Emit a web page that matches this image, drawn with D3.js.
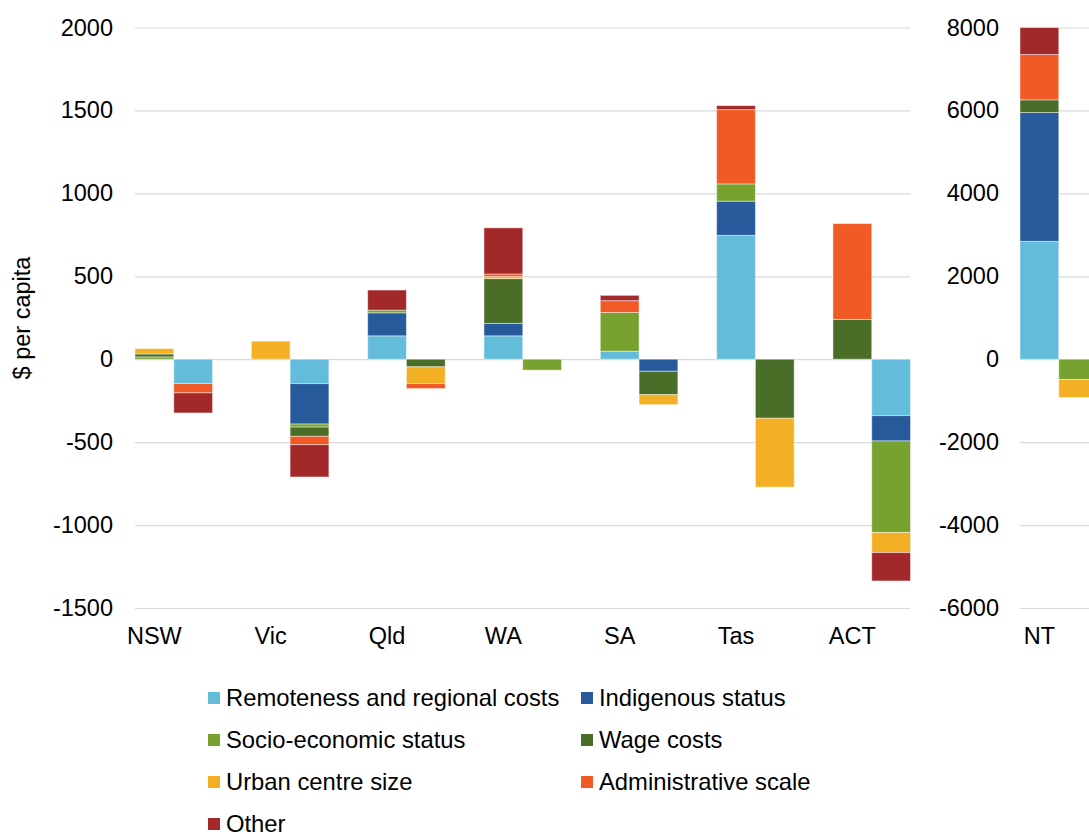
<!DOCTYPE html>
<html lang="en">
<head>
    <meta charset="UTF-8">
    <script src="https://d3js.org/d3.v7.min.js"></script>
    <title>Per capita assessments by disability</title>
    <style>
        body {
            margin: 0;
            background: #fff;
        }
        svg text {
            font-family: "Liberation Sans", Arial, sans-serif;
            font-size: 23.5px;
            fill: #000;
        }
        .legend text {
            font-size: 23.8px;
        }
        .grid line {
            stroke: #d9d9d9;
            stroke-width: 1.2px;
        }
        .bars rect {
            stroke: #fff;
            stroke-opacity: 0.45;
            stroke-width: 1;
        }
    </style>
</head>
<body>
    <script>
        // $ per capita, one value per state for each disability
        const states = ['NSW', 'Vic', 'Qld', 'WA', 'SA', 'Tas', 'ACT', 'NT'];
        const remoteness = [-147, -147, 141, 141, 48, 747, -340, 2843];
        const indigenous = [0, -244, 139, 75, -73, 206, -153, 3108];
        const socioEconomic = [14, -18, 16, -66, 234, 104, -552, -490];
        const wageCosts = [18, -56, -46, 270, -141, -356, 240, 305];
        const urbanCentre = [32, 109, -101, 12, -60, -415, -121, -434];
        const adminScale = [-56, -50, -30, 16, 71, 448, 578, 1092];
        const other = [-121, -195, 121, 278, 32, 24, -171, 651];

        const leftTicks = [-1500, -1000, -500, 0, 500, 1000, 1500, 2000];
        const rightTicks = [-6000, -4000, -2000, 0, 2000, 4000, 6000, 8000];

        const series = [
            { key: 'remoteness', label: 'Remoteness and regional costs', color: '#64bcdb', values: remoteness },
            { key: 'indigenous', label: 'Indigenous status', color: '#265a9a', values: indigenous },
            { key: 'socio', label: 'Socio-economic status', color: '#78a22f', values: socioEconomic },
            { key: 'wage', label: 'Wage costs', color: '#4a6e27', values: wageCosts },
            { key: 'urban', label: 'Urban centre size', color: '#f4b025', values: urbanCentre },
            { key: 'admin', label: 'Administrative scale', color: '#f15a24', values: adminScale },
            { key: 'other', label: 'Other', color: '#a3282a', values: other }
        ];

        const width = 1089;
        const height = 834;

        const svg = d3.select('body').append('svg')
            .attr('width', width)
            .attr('height', height);

        const rows = states.map((s, i) => {
            const row = { state: s };
            series.forEach(se => { row[se.key] = se.values[i]; });
            return row;
        });

        const leftStates = states.slice(0, 7);
        const xLeft = d3.scaleBand().domain(leftStates)
            .range([135, 910.5]).paddingInner(1 / 3).paddingOuter(0);
        const xRight = d3.scaleBand().domain(['NT'])
            .range([1020, 1020 + xLeft.bandwidth()]);
        const xSub = d3.scaleBand().domain(['pos', 'neg']).range([0, xLeft.bandwidth()]);

        const yLeft = d3.scaleLinear().domain([-1500, 2000]).range([608, 27.5]);
        const yRight = d3.scaleLinear().domain([-6000, 8000]).range([608, 27.5]);

        const xOf = s => s === 'NT' ? xRight(s) : xLeft(s);
        const yOf = s => s === 'NT' ? yRight : yLeft;

        // axes + gridlines
        const leftAxis = svg.append('g')
            .attr('class', 'grid')
            .attr('transform', 'translate(135,0)')
            .call(d3.axisLeft(yLeft).tickValues(leftTicks)
                .tickSize(-(910.5 - 135)).tickPadding(22)
                .tickFormat(d => String(d)));

        const rightAxis = svg.append('g')
            .attr('class', 'grid')
            .attr('transform', 'translate(1020,0)')
            .call(d3.axisLeft(yRight).tickValues(rightTicks)
                .tickSize(-(width - 1020 + 20)).tickPadding(21)
                .tickFormat(d => String(d)));

        [leftAxis, rightAxis].forEach(g => {
            g.select('.domain').remove();
        });
        svg.selectAll('.grid').attr('font-size', null).attr('font-family', null);

        // stacked bars: positives up in the first column, negatives down in the second
        const stacked = d3.stack()
            .keys(series.map(d => d.key))
            .offset(d3.stackOffsetDiverging)(rows);

        svg.append('g')
            .attr('class', 'bars')
            .selectAll('g')
            .data(stacked)
            .enter().append('g')
            .attr('fill', (d, i) => series[i].color)
            .selectAll('rect')
            .data(d => d.filter(p => p.data[d.key] !== 0).map(p => ({ p: p, v: p.data[d.key] })))
            .enter().append('rect')
            .attr('x', d => xOf(d.p.data.state) + xSub(d.v > 0 ? 'pos' : 'neg'))
            .attr('width', xSub.bandwidth())
            .attr('y', d => yOf(d.p.data.state)(d.p[1]))
            .attr('height', d => yOf(d.p.data.state)(d.p[0]) - yOf(d.p.data.state)(d.p[1]));

        // category labels sit under the positive column
        svg.append('g')
            .selectAll('text')
            .data(states)
            .enter().append('text')
            .attr('x', d => xOf(d) + xSub('pos') + xSub.bandwidth() / 2)
            .attr('y', 644)
            .attr('text-anchor', 'middle')
            .text(d => d);

        svg.append('text')
            .attr('transform', 'translate(30,318) rotate(-90)')
            .attr('text-anchor', 'middle')
            .text('$ per capita');

        // legend
        const legend = svg.append('g')
            .attr('class', 'legend')
            .selectAll('g')
            .data(series)
            .enter().append('g')
            .attr('transform', (d, i) => `translate(${i % 2 === 0 ? 208 : 581},${698 + Math.floor(i / 2) * 42})`);

        legend.append('rect')
            .attr('x', 0)
            .attr('y', -6)
            .attr('width', 12)
            .attr('height', 12)
            .attr('fill', d => d.color);

        legend.append('text')
            .attr('x', 18)
            .attr('y', 8)
            .text(d => d.label);
    </script>
</body>
</html>
